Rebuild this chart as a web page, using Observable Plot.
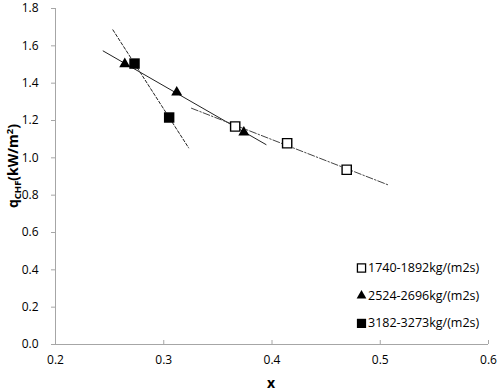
<!DOCTYPE html>
<html><head><meta charset="utf-8">
<script src="https://cdn.jsdelivr.net/npm/d3@7"></script>
<script src="https://cdn.jsdelivr.net/npm/@observablehq/plot@0.6"></script>
<style>body{margin:0;background:#fff}#chart{position:relative;width:498px;height:391px}</style>
</head><body><div id="chart"></div>
<script>
const seriesNames = ["1740-1892kg/(m2s)", "2524-2696kg/(m2s)", "3182-3273kg/(m2s)"];
const openSquareX = [0.366, 0.414, 0.469];
const openSquareY = [1.168, 1.078, 0.936];
const triangleX = [0.264, 0.312, 0.374];
const triangleY = [1.503, 1.351, 1.137];
const filledSquareX = [0.273, 0.305];
const filledSquareY = [1.505, 1.216];
// trend line x-extents
const fitOpen = [0.3256, 0.508];
const fitTri = [0.244, 0.3945];
const fitFilled = [0.253, 0.323];
const xTicks = [0.2, 0.3, 0.4, 0.5, 0.6];
const yTicks = [0.0, 0.2, 0.4, 0.6, 0.8, 1.0, 1.2, 1.4, 1.6, 1.8];

function pts(xs, ys) { return xs.map((x, i) => ({x, y: ys[i]})); }
function fit(xs, ys, ext) {
  const mx = d3.mean(xs), my = d3.mean(ys);
  const sxy = d3.sum(xs, (x, i) => (x - mx) * (ys[i] - my));
  const sxx = d3.sum(xs, x => (x - mx) ** 2);
  const b = sxy / sxx;
  return ext.map(x => ({x, y: my + b * (x - mx)}));
}
const openPts = pts(openSquareX, openSquareY);
const triPts = pts(triangleX, triangleY);
const fillPts = pts(filledSquareX, filledSquareY);

const font = "'Open Sans', sans-serif";
const legendStyles = [
  {symbol: "square", fill: "white", stroke: "black", r: 4.6},
  {symbol: "triangle", fill: "black", stroke: "none", r: 3.6},
  {symbol: "square", fill: "black", stroke: "none", r: 5.2}
];
const legendMarks = seriesNames.flatMap((name, i) => [
  Plot.dot([name], {frameAnchor: "top-left", dx: 306, dy: 259.5 + 27.7 * i, symbol: legendStyles[i].symbol,
    fill: legendStyles[i].fill, stroke: legendStyles[i].stroke, strokeWidth: 1.3, r: legendStyles[i].r}),
  Plot.text([name], {frameAnchor: "top-left", dx: 312.5, dy: 259.5 + 27.7 * i, text: d => d, textAnchor: "start",
    lineAnchor: "middle", fontSize: 12.5, fill: "black"})
]);

const plot = Plot.plot({
  width: 498, height: 391,
  marginLeft: 55, marginRight: 10, marginTop: 8, marginBottom: 47,
  style: {fontFamily: font, fontSize: "12px", color: "black", background: "white"},
  x: {domain: [0.2, 0.6]},
  y: {domain: [0, 1.8]},
  marks: [
    Plot.ruleY([0], {stroke: "#a6a6a6"}),
    Plot.ruleX([0.2], {stroke: "#a6a6a6"}),
    Plot.axisX({ticks: xTicks, tickSize: 0, tickPadding: 11, tickFormat: d3.format(".1f"), label: null, fill: "black"}),
    Plot.axisX({ticks: xTicks, tickSize: -4, tickFormat: () => "", label: null, stroke: "#a6a6a6"}),
    Plot.axisY({ticks: yTicks, tickSize: 4, tickPadding: 13, tickFormat: d3.format(".1f"), label: null, stroke: "#a6a6a6", fill: "black"}),
    Plot.line(fit(filledSquareX, filledSquareY, fitFilled), {x: "x", y: "y", stroke: "#222", strokeWidth: 1, strokeDasharray: "3,2"}),
    Plot.line(fit(triangleX, triangleY, fitTri), {x: "x", y: "y", stroke: "#222", strokeWidth: 1}),
    Plot.line(fit(openSquareX, openSquareY, fitOpen), {x: "x", y: "y", stroke: "#444", strokeWidth: 1, strokeDasharray: "7,2,1.5,2"}),
    Plot.dot(openPts, {x: "x", y: "y", symbol: "square", fill: "white", stroke: "black", strokeWidth: 1.4, r: 5.2}),
    Plot.dot(triPts, {x: "x", y: "y", symbol: "triangle", fill: "black", r: 4.1}),
    Plot.dot(fillPts, {x: "x", y: "y", symbol: "square", fill: "black", r: 5.9}),
    ...legendMarks
  ]
});
document.getElementById("chart").appendChild(plot);
const svg = d3.select(plot);
const yt = svg.append("text").attr("transform", "translate(18,166) rotate(-90)")
  .attr("text-anchor", "middle").attr("font-family", font).attr("font-weight", "bold").attr("font-size", 14).attr("fill", "black");
yt.append("tspan").text("q");
yt.append("tspan").attr("font-size", 9.5).attr("dy", 3).text("CHF");
yt.append("tspan").attr("dy", -3).text("(kW/m");
yt.append("tspan").attr("font-size", 9.5).attr("dy", -5).text("2");
yt.append("tspan").attr("dy", 5).text(")");
svg.append("text").attr("x", 271).attr("y", 388).attr("text-anchor", "middle").attr("font-family", font)
  .attr("font-weight", "bold").attr("font-size", 14).attr("fill", "black").text("x");
</script></body></html>
